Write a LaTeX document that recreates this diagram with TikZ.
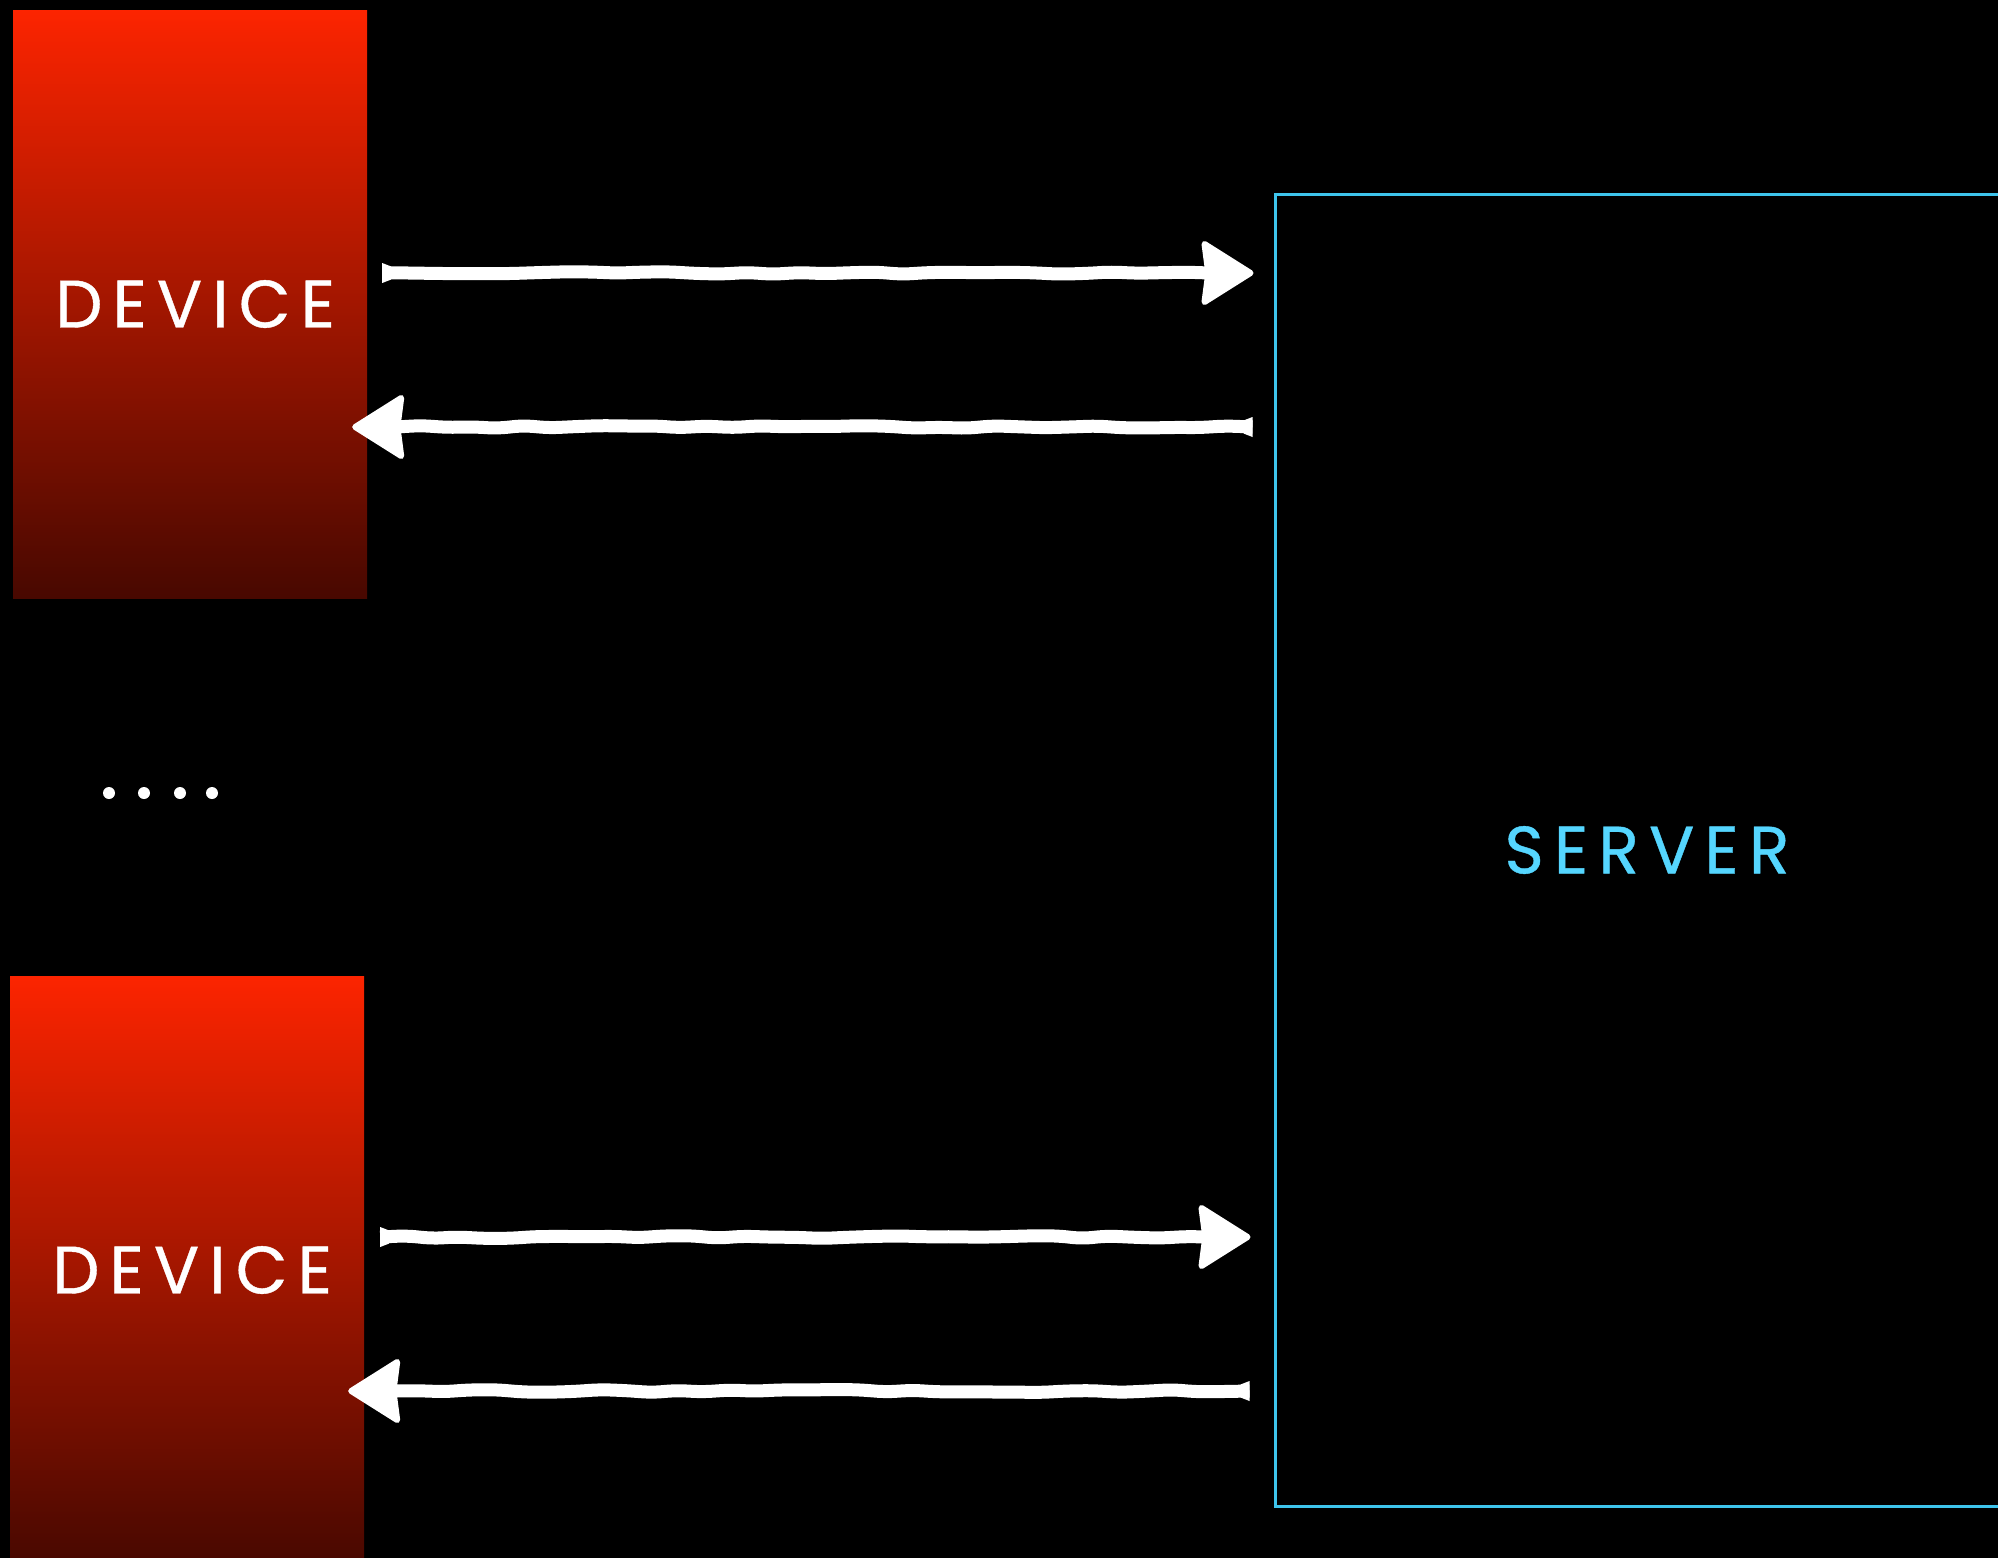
\documentclass[tikz,border=0pt]{standalone}
\usepackage{fontspec}
\setmainfont{Poppins}
\newfontfamily\labelfont[LetterSpace=15,FakeBold=0.6]{Poppins}
\usetikzlibrary{calc,decorations.pathmorphing}
\definecolor{devtop}{RGB}{252,36,0}
\definecolor{devbot}{RGB}{72,8,0}
\definecolor{srvline}{RGB}{62,196,236}
\definecolor{srvtext}{RGB}{85,214,255}
\tikzset{
  devbox/.style={rectangle, inner sep=0pt, minimum width=354pt, minimum height=588pt,
    top color=devtop, bottom color=devbot, text=white,
    font=\labelfont\fontsize{67}{67}\selectfont},
  srvbox/.style={rectangle, inner sep=0pt, draw=srvline, line width=3pt,
    minimum width=734pt, minimum height=1312pt, text=srvtext,
    font=\labelfont\fontsize{67}{67}\selectfont},
  dotmark/.style={circle, fill=white, inner sep=0pt, minimum size=12pt},
  shaft/.style={draw=white, line width=13pt, line cap=butt, line join=round,
    decorate, decoration={random steps, segment length=26pt, amplitude=1.5pt}, rounded corners=9pt},
  headline/.style={draw=white, line width=6pt, line join=round}
}
% #1 = tail coordinate, #2 = tip coordinate (horizontal arrows)
\newcommand{\handarrow}[2]{%
  \coordinate (hb) at ($(#2)!46pt!(#1)$);
  \coordinate (hbx) at ($(#2)!43pt!(#1)$);
  \coordinate (hsx) at ($(#2)!41pt!(#1)$);
  \draw[shaft] (#1) -- (hsx);
  \fill[white] ($(#1)+(0,-10)$) -- ($(#1)+(0,10)$) -- ($($(#1)!9pt!(#2)$)+(0,6.5)$) -- ($($(#1)!9pt!(#2)$)+(0,-6.5)$) -- cycle;
  \fill[white] (#2) -- ($(hb)+(0,-29)$) -- ($(hbx)+(0,-6)$) -- ($(hbx)+(0,6)$) -- ($(hb)+(0,29)$) -- cycle;
  \draw[headline] (#2) -- ($(hb)+(0,-29)$) -- ($(hbx)+(0,-6)$) -- ($(hbx)+(0,6)$) -- ($(hb)+(0,29)$) -- cycle;
}
\begin{document}
\begin{tikzpicture}[x=1pt,y=-1pt]
\pgfmathsetseed{11}
\useasboundingbox (0,0) rectangle (1998,1558);
\fill[black] (0,0) rectangle (1998,1558);

\node[devbox] (dev1) at (190,304) {\hspace*{0.15em}DEVICE};
\node[devbox] (dev2) at (187,1270) {\hspace*{0.15em}DEVICE};
\node[srvbox] (srv) at (1642,850) {\hspace*{0.15em}SERVER};

\node[dotmark] (dot1) at (109,793) {};
\node[dotmark] (dot2) at (144,793) {};
\node[dotmark] (dot3) at (180,793) {};
\node[dotmark] (dot4) at (212,793) {};

% connector end points
\coordinate (a1t) at ($(dev1.east)+(15,-31)$);
\coordinate (a1h) at ($(srv.west |- a1t)+(-23,0)$);
\coordinate (a2h) at ($(dev1.east)+(-12,123)$);
\coordinate (a2t) at ($(srv.west |- a2h)+(-21,0)$);
\coordinate (a3t) at ($(dev2.east)+(16,-33)$);
\coordinate (a3h) at ($(srv.west |- a3t)+(-26,0)$);
\coordinate (a4h) at ($(dev2.east)+(-13,121)$);
\coordinate (a4t) at ($(srv.west |- a4h)+(-24,0)$);

\handarrow{a1t}{a1h}
\handarrow{a2t}{a2h}
\handarrow{a3t}{a3h}
\handarrow{a4t}{a4h}
\end{tikzpicture}
\end{document}
